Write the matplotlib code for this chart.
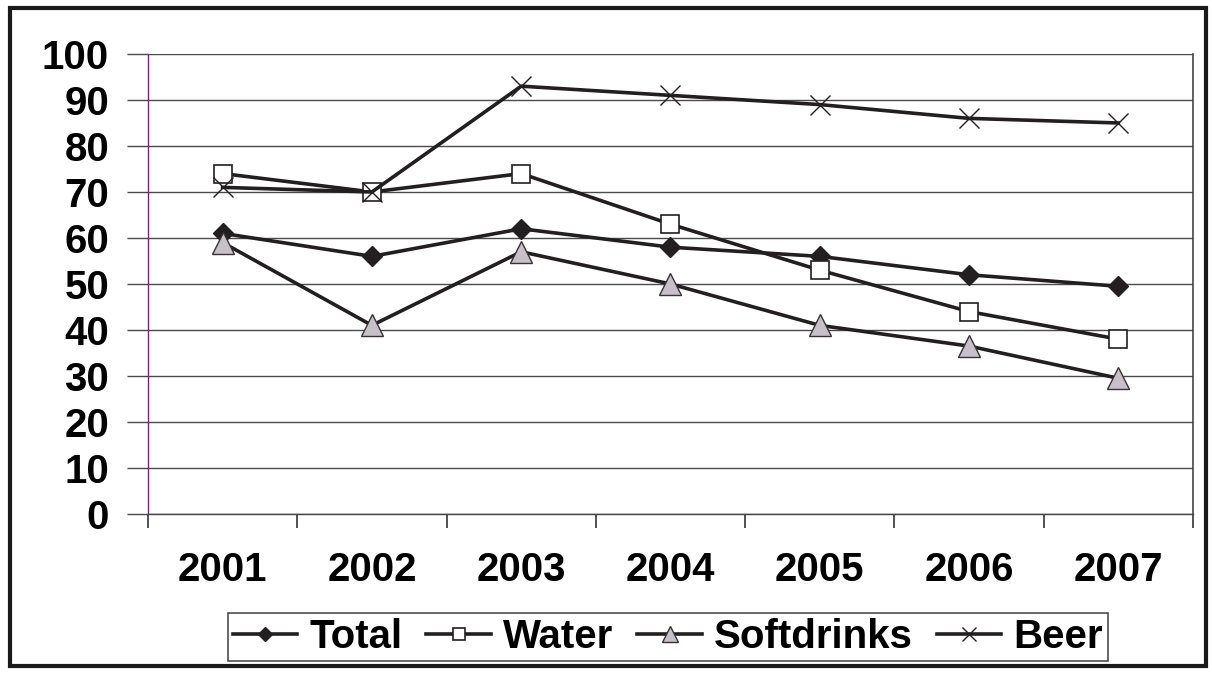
import matplotlib.pyplot as plt
from matplotlib.patches import Rectangle
import numpy as np

years = ["2001", "2002", "2003", "2004", "2005", "2006", "2007"]
total = [61, 56, 62, 58, 56, 52, 49.5]
water = [74, 70, 74, 63, 53, 44, 38]
softdrinks = [59, 41, 57, 50, 41, 36.5, 29.5]
beer = [71, 70, 93, 91, 89, 86, 85]

plt.rcParams['font.family'] = ['Liberation Sans', 'DejaVu Sans']
plt.rcParams['font.weight'] = 'bold'

fig = plt.figure(figsize=(12.12, 6.73), dpi=100)
ax = fig.add_axes([0.1221, 0.2363, 0.8622, 0.6835])

x = np.arange(len(years))
line_col = '#231f20'
lw = 2.6
ax.plot(x, total, color=line_col, lw=lw, marker='D', ms=10, mfc=line_col, mec=line_col, label='Total', zorder=3)
ax.plot(x, water, color=line_col, lw=lw, marker='s', ms=13, mfc='white', mec=line_col, mew=1.2, label='Water', zorder=3)
ax.plot(x, softdrinks, color=line_col, lw=lw, marker='^', ms=16, mfc='#c8c0c8', mec='#3a3038', mew=1.0, label='Softdrinks', zorder=3)
ax.plot(x, beer, color=line_col, lw=lw, marker='x', ms=15, mew=1.0, mec=line_col, label='Beer', zorder=3)

ax.set_xlim(-0.5, len(years) - 0.5)
ax.set_ylim(0, 100)
ax.set_yticks(np.arange(0, 101, 10))
ax.yaxis.grid(True, color='#4a4a4a', lw=1.0)
ax.set_axisbelow(True)

ax.set_xticks(x)
ax.set_xticklabels(years)
ax.set_xticks(np.arange(-0.5, len(years)), minor=True)
ax.tick_params(axis='x', which='major', length=0, pad=27, labelsize=29)
ax.tick_params(axis='x', which='minor', length=10, width=1.2, color='#333333')
ax.tick_params(axis='y', length=15, width=1.0, color='#4a4a4a', pad=13, labelsize=29)

ax.spines['top'].set_visible(False)
ax.spines['left'].set_color('#8a1a8a')
ax.spines['left'].set_linewidth(1.0)
ax.spines['right'].set_color('#444444')
ax.spines['right'].set_linewidth(1.2)
ax.spines['bottom'].set_color('#444444')
ax.spines['bottom'].set_linewidth(1.0)

leg = fig.legend(loc='center', bbox_to_anchor=(0.551, 0.0535), ncol=4, fontsize=29,
                 frameon=True, fancybox=False, edgecolor='#222222', handlelength=1.6,
                 handletextpad=0.3, columnspacing=0.6, borderpad=0.12, markerscale=0.7)
leg.get_frame().set_linewidth(1.2)

fig.patches.append(Rectangle((10 / 1212, 1 - 666 / 673), 1196 / 1212, 658 / 673,
                             transform=fig.transFigure, fill=False, lw=3, edgecolor='#1a1a1a'))

fig.savefig('out.png', dpi=100)
